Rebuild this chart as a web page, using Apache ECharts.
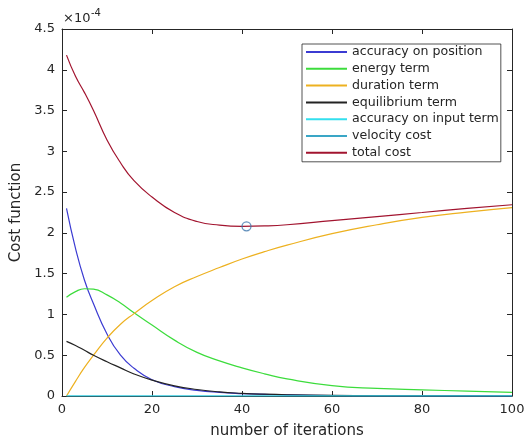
<!DOCTYPE html>
<html>
<head>
<meta charset="utf-8">
<title>Cost function</title>
<script src="https://cdn.jsdelivr.net/npm/echarts@6/dist/echarts.min.js"></script>
<style>
  html, body { margin: 0; padding: 0; background: #fff; }
  #chart { width: 528px; height: 439px; }
</style>
</head>
<body>
<div id="chart"></div>
<script>
// Sampled iterations (x) and the cost terms at each, in units of 1e-4
const iterations = [1, 3, 5, 7, 10, 13, 16, 20, 25, 30, 35, 40, 45, 50, 60, 70, 80, 90, 100];

const accuracyOnPosition = [2.30, 1.81, 1.42, 1.13, 0.76, 0.50, 0.34, 0.20, 0.115, 0.07, 0.045, 0.03, 0.02, 0.013, 0.006, 0.003, 0.001, 0.0005, 0.0002];
const energyTerm         = [1.21, 1.28, 1.315, 1.31, 1.24, 1.14, 1.02, 0.87, 0.685, 0.535, 0.43, 0.345, 0.272, 0.21, 0.128, 0.093, 0.075, 0.06, 0.045];
const durationTerm       = [0.0, 0.18, 0.35, 0.50, 0.71, 0.88, 1.01, 1.17, 1.34, 1.465, 1.575, 1.68, 1.77, 1.85, 1.99, 2.10, 2.19, 2.255, 2.31];
const equilibriumTerm    = [0.67, 0.62, 0.56, 0.50, 0.42, 0.345, 0.27, 0.195, 0.125, 0.08, 0.05, 0.033, 0.022, 0.015, 0.007, 0.003, 0.0015, 0.0007, 0.0003];
const accuracyOnInput    = [0, 0, 0, 0, 0, 0, 0, 0, 0, 0, 0, 0, 0, 0, 0, 0, 0, 0, 0];
const velocityCost       = [0, 0, 0, 0, 0, 0, 0, 0, 0, 0, 0, 0, 0, 0, 0, 0, 0, 0, 0];
const totalCost          = [4.18, 3.92, 3.72, 3.50, 3.14, 2.86, 2.64, 2.44, 2.25, 2.14, 2.095, 2.08, 2.085, 2.10, 2.15, 2.20, 2.25, 2.30, 2.345];

// Minimum of the total cost
const minIteration = 41;
const minTotal = 2.08;

const xTicks = [0, 20, 40, 60, 80, 100];
const yTicks = [0, 0.5, 1, 1.5, 2, 2.5, 3, 3.5, 4, 4.5];

const axisColor = '#262626';
const font = 'DejaVu Sans, sans-serif';

function pairs(ys) {
  return iterations.map((x, i) => [x, ys[i]]);
}

const curves = [
  { name: 'accuracy on position', values: accuracyOnPosition, color: '#3b3bd2', z: 3 },
  { name: 'energy term',          values: energyTerm,         color: '#3cdc3c', z: 3 },
  { name: 'duration term',        values: durationTerm,       color: '#EDB120', z: 3 },
  { name: 'equilibrium term',     values: equilibriumTerm,    color: '#232323', z: 4 },
  { name: 'accuracy on input term', values: accuracyOnInput,  color: '#33dfee', z: 6 },
  { name: 'velocity cost',        values: velocityCost,       color: '#3aa6c6', z: 5 },
  { name: 'total cost',           values: totalCost,          color: '#A2142F', z: 3 }
];

const series = curves.map(c => ({
  name: c.name,
  type: 'line',
  data: pairs(c.values),
  smooth: 0.5,
  symbol: 'none',
  z: c.z,
  lineStyle: { color: c.color, width: 1.2 },
  itemStyle: { color: c.color },
  emphasis: { disabled: true },
  animation: false
}));

series.push({
  name: 'minimum',
  type: 'scatter',
  data: [[minIteration, minTotal]],
  symbol: 'circle',
  symbolSize: 9,
  z: 8,
  itemStyle: { color: 'rgba(0,0,0,0)', borderColor: '#3f77ad', borderWidth: 1.3 },
  emphasis: { disabled: true },
  animation: false
});

const xMin = xTicks[0], xMax = xTicks[xTicks.length - 1];
const yMin = yTicks[0], yMax = yTicks[yTicks.length - 1];

const baseAxis = {
  axisLine: { show: true, onZero: false, lineStyle: { color: axisColor, width: 1 } },
  axisTick: { show: true, inside: true, length: 5, lineStyle: { color: axisColor, width: 1 } },
  splitLine: { show: false }
};

const chart = echarts.init(document.getElementById('chart'), null, { renderer: 'canvas' });

chart.setOption({
  backgroundColor: '#ffffff',
  animation: false,
  grid: { left: 62, right: 16, top: 29, bottom: 43, containLabel: false, outerBoundsMode: 'none' },
  xAxis: [
    Object.assign({}, baseAxis, {
      type: 'value', position: 'bottom', min: xMin, max: xMax, interval: xTicks[1] - xTicks[0],
      name: 'number of iterations', nameLocation: 'middle', nameGap: 28,
      nameTextStyle: { fontFamily: font, fontSize: 15, color: axisColor },
      axisLabel: { show: true, margin: 7, fontFamily: font, fontSize: 13, color: axisColor }
    }),
    Object.assign({}, baseAxis, {
      type: 'value', position: 'top', min: xMin, max: xMax, interval: xTicks[1] - xTicks[0],
      axisLabel: { show: false }
    })
  ],
  yAxis: [
    Object.assign({}, baseAxis, {
      type: 'value', position: 'left', min: yMin, max: yMax, interval: yTicks[1] - yTicks[0],
      name: 'Cost function', nameLocation: 'middle', nameGap: 28, nameRotate: 90,
      nameTextStyle: { fontFamily: font, fontSize: 15, color: axisColor },
      axisLabel: { show: true, margin: 7, fontFamily: font, fontSize: 13, color: axisColor }
    }),
    Object.assign({}, baseAxis, {
      type: 'value', position: 'right', min: yMin, max: yMax, interval: yTicks[1] - yTicks[0],
      axisLabel: { show: false }
    })
  ],
  legend: {
    data: curves.map(c => c.name),
    orient: 'vertical',
    left: 302,
    top: 44,
    itemWidth: 41,
    itemHeight: 14,
    itemGap: 2.8,
    padding: [1, 2, 2, 3],
    borderColor: axisColor,
    borderWidth: 0.8,
    backgroundColor: '#ffffff',
    itemStyle: { opacity: 0 },
    textStyle: { fontFamily: font, fontSize: 12.6, color: axisColor, lineHeight: 14 },
    selectedMode: false
  },
  graphic: [
    { type: 'text', left: 63, top: 12, style: { text: '\u00d710', font: '13px ' + font, fill: axisColor } },
    { type: 'text', left: 91, top: 8, style: { text: '-4', font: '10px ' + font, fill: axisColor } }
  ],
  series: series
});
</script>
</body>
</html>
